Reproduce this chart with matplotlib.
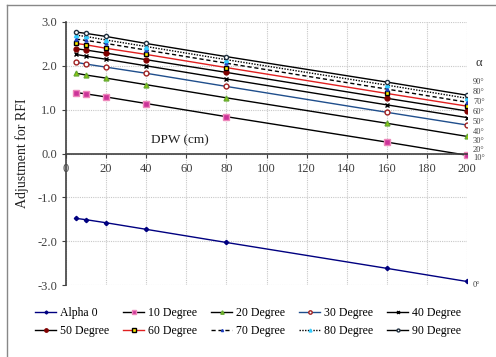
import matplotlib.pyplot as plt
from matplotlib.lines import Line2D

plt.rcParams['font.family'] = ['Liberation Serif', 'DejaVu Serif']

dpw = [5, 10, 20, 40, 80, 160, 200]

alpha0 = [-1.48, -1.51, -1.58, -1.73, -2.03, -2.62, -2.92]
deg10 = [1.39, 1.36, 1.29, 1.14, 0.84, 0.26, -0.04]
deg20 = [1.83, 1.79, 1.72, 1.57, 1.27, 0.69, 0.39]
deg30 = [2.08, 2.04, 1.97, 1.83, 1.53, 0.94, 0.65]
deg40 = [2.26, 2.22, 2.15, 2.00, 1.70, 1.11, 0.82]
deg50 = [2.39, 2.36, 2.29, 2.14, 1.85, 1.26, 0.97]
deg60 = [2.51, 2.48, 2.40, 2.26, 1.96, 1.37, 1.08]
deg70 = [2.61, 2.58, 2.51, 2.36, 2.06, 1.47, 1.17]
deg80 = [2.70, 2.67, 2.59, 2.44, 2.14, 1.56, 1.26]
deg90 = [2.77, 2.74, 2.67, 2.51, 2.21, 1.63, 1.33]

series = [
    ('Alpha 0', alpha0, dict(color='#000080', ls='-', marker='D', ms=2.2, mfc='#000080', mec='#000080')),
    ('10 Degree', deg10, dict(color='black', ls='-', marker='s', ms=4, mfc='#cc3399', mec='#ee88bb')),
    ('20 Degree', deg20, dict(color='black', ls='-', marker='^', ms=3.5, mfc='#99cc00', mec='#66aa33')),
    ('30 Degree', deg30, dict(color='#1f4e8c', ls='-', marker='o', ms=3.5, mfc='white', mec='#a02020')),
    ('40 Degree', deg40, dict(color='black', ls='-', marker='x', ms=3, mfc='black', mec='black')),
    ('50 Degree', deg50, dict(color='black', ls='-', marker='o', ms=3.5, mfc='#800000', mec='#800000')),
    ('60 Degree', deg60, dict(color='#e02020', ls='-', marker='s', ms=3.5, mfc='#ffee00', mec='black')),
    ('70 Degree', deg70, dict(color='black', ls=(0, (3, 2)), marker='^', ms=2.2, mfc='#2040c0', mec='#2040c0')),
    ('80 Degree', deg80, dict(color='black', ls=(0, (1, 1)), marker='^', ms=3, mfc='#33ccff', mec='#33ccff')),
    ('90 Degree', deg90, dict(color='black', ls='-', marker='o', ms=3, mfc='white', mec='#203040')),
]

right_labels = ['90°', '80°', '70°', '60°', '50°', '40°', '30°', '20°', '10°']
right_label_y = [1.62, 1.40, 1.17, 0.94, 0.71, 0.48, 0.29, 0.08, -0.11]

fig = plt.figure(figsize=(4.96, 3.57), dpi=100)
ax = fig.add_axes([66 / 496, 1 - 285 / 357, (467 - 66) / 496, (285 - 22) / 357])

handles = []
for name, vals, st in series:
    h, = ax.plot(dpw, vals, lw=1.0, label=name, **st)
    handles.append(h)

ax.set_xlim(0, 200)
ax.set_ylim(-3, 3)
ax.set_xticks(range(0, 201, 20))
ax.set_yticks([-3, -2, -1, 0, 1, 2, 3])
ax.set_yticklabels(['%.1f' % v for v in [-3, -2, -1, 0, 1, 2, 3]])
ax.grid(True, color='#c8c8c8', ls=(0, (1, 1)), lw=0.8)
ax.set_axisbelow(True)

for s in ['top', 'right']:
    ax.spines[s].set_visible(False)
ax.spines['bottom'].set_position(('data', 0))
ax.spines['bottom'].set_color('#404040')
ax.spines['left'].set_color('#404040')
ax.spines['bottom'].set_linewidth(1.2)
ax.spines['left'].set_linewidth(1.2)
ax.tick_params(axis='both', labelsize=9, colors='#404040', length=3, direction='out')
ax.tick_params(axis='x', pad=4)

ax.set_ylabel('Adjustment for RFI', fontsize=10, color='#202020', labelpad=6)
ax.text(57, 0.3, 'DPW (cm)', fontsize=9.5, ha='center', va='center', color='#202020')

ax.text(204, 2.07, 'α', fontsize=9, ha='left', va='center', color='#303030', clip_on=False)
for lab, y in zip(right_labels, right_label_y):
    ax.text(203, y, lab, fontsize=6, ha='left', va='center', color='#404040', clip_on=False)
ax.text(203, -3.0, '0°', fontsize=6, ha='left', va='center', color='#404040', clip_on=False)

order = [0, 5, 1, 6, 2, 7, 3, 8, 4, 9]
fig.legend([handles[i] for i in order], [series[i][0] for i in order],
           ncol=5, loc='center', bbox_to_anchor=(0.5, 1 - 322 / 357),
           frameon=False, fontsize=8.5, handlelength=1.8, handletextpad=0.3,
           columnspacing=1.2, labelspacing=0.45, markerscale=0.7)

# outer chart border
fig.add_artist(Line2D([7 / 496, 7 / 496], [0, 1 - 5 / 357], transform=fig.transFigure,
                      color='#888888', lw=1))
fig.add_artist(Line2D([7 / 496, 1], [1 - 5 / 357, 1 - 5 / 357], transform=fig.transFigure,
                      color='#888888', lw=1))

fig.savefig('out.png', dpi=100)
